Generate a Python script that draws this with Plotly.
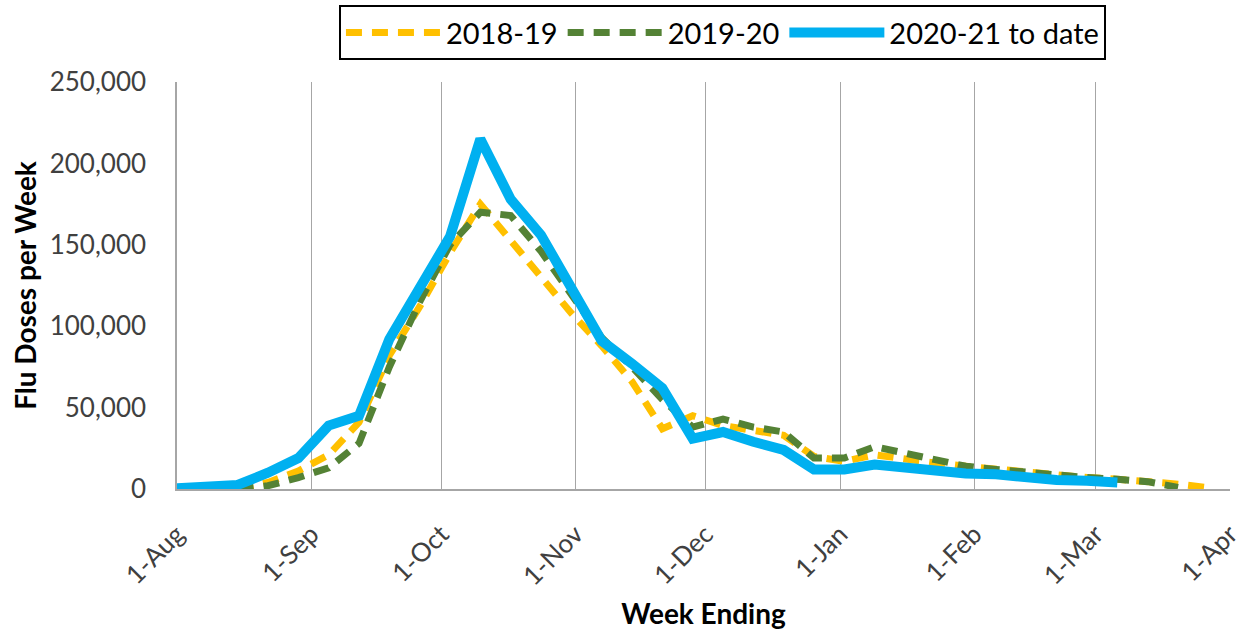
import pandas as pd
import plotly.graph_objects as go

# weekly "week ending" dates, plotted on a single Aug-Apr season axis
weeks = pd.date_range("2020-08-01", periods=35, freq="7D")

doses_1819 = [None, None, 0, 4000, 11000, 21000, 41000, 82000, 112000, 145000,
              175000, 153000, 130000, 108000, 88000, 66000, 37000, 45000, 39000, 36000,
              33000, 20000, 17000, 21000, 18000, 16000, 14000, 12000, 10000, 8500,
              7000, 6000, 5000, 3000, 800]
doses_1920 = [None, None, 0, 2000, 7000, 13000, 28000, 75000, 115000, 150000,
              170000, 168000, 146000, 120000, 93000, 75000, 55000, 38000, 43000, 38000,
              35000, 19000, 19000, 26000, 22000, 18000, 14000, 12000, 10000, 8000,
              7000, 6000, 4500, 1000, None]
doses_2021 = [500, 1500, 2500, 10000, 19000, 39000, 45000, 92000, 125000, 155000,
              215000, 178000, 156000, 124000, 91000, 77000, 62000, 31000, 35000, 29000,
              24000, 12000, 12000, 15000, 13000, 11000, 9500, 9000, 6500, 5500,
              5000, 4000, None, None, None]

series = [
    ("2018-19", doses_1819, "#FFC000", 7, "16px,10px"),
    ("2019-20", doses_1920, "#548235", 7, "16px,10px"),
    ("2020-21 to date", doses_2021, "#00B0F0", 10, "solid"),
]

fig = go.Figure()
for name, vals, color, width, dash in series:
    fig.add_trace(go.Scatter(x=weeks, y=vals, name=name, mode="lines",
                             line=dict(color=color, width=width, dash=dash)))

font = "Lato, Calibri, sans-serif"
fig.update_layout(
    width=1246, height=639,
    margin=dict(l=177, r=16, t=82, b=150, autoexpand=False),
    plot_bgcolor="white", paper_bgcolor="white",
    font=dict(family=font, size=26, color="#404040"),
    showlegend=True,
    legend=dict(orientation="h", x=0.518, xanchor="center", xref="paper",
                y=0.992, yanchor="top", yref="container",
                bordercolor="black", borderwidth=2, font=dict(size=29, color="black"),
                itemwidth=95, bgcolor="white"),
    xaxis=dict(
        type="date", range=["2020-08-01", "2021-04-01"],
        tickvals=pd.date_range("2020-08-01", "2021-04-01", freq="MS"),
        tickformat="%-d-%b", tickangle=-45, tickfont=dict(size=26),
        ticklabelstandoff=18, ticklabeloverflow="allow",
        showgrid=True, gridcolor="#a6a6a6", gridwidth=1.3,
        showline=True, linecolor="#a6a6a6", linewidth=1.5,
        title=dict(text="<b>Week Ending</b>", font=dict(size=28, color="black"), standoff=14),
        zeroline=False,
    ),
    yaxis=dict(
        range=[0, 250000], tickvals=[0, 50000, 100000, 150000, 200000, 250000],
        tickformat=",d", showgrid=False, zeroline=False,
        showline=True, linecolor="#a6a6a6", linewidth=1.5,
        ticklabelstandoff=24,
        title=dict(text="<b>Flu Doses per Week</b>", font=dict(size=28, color="black"), standoff=5),
    ),
)

# drop the browser's default body margin so the figure sits at the page origin
fig.write_html("out.html", config={"displayModeBar": False},
               post_script="document.body.style.margin='0';")
